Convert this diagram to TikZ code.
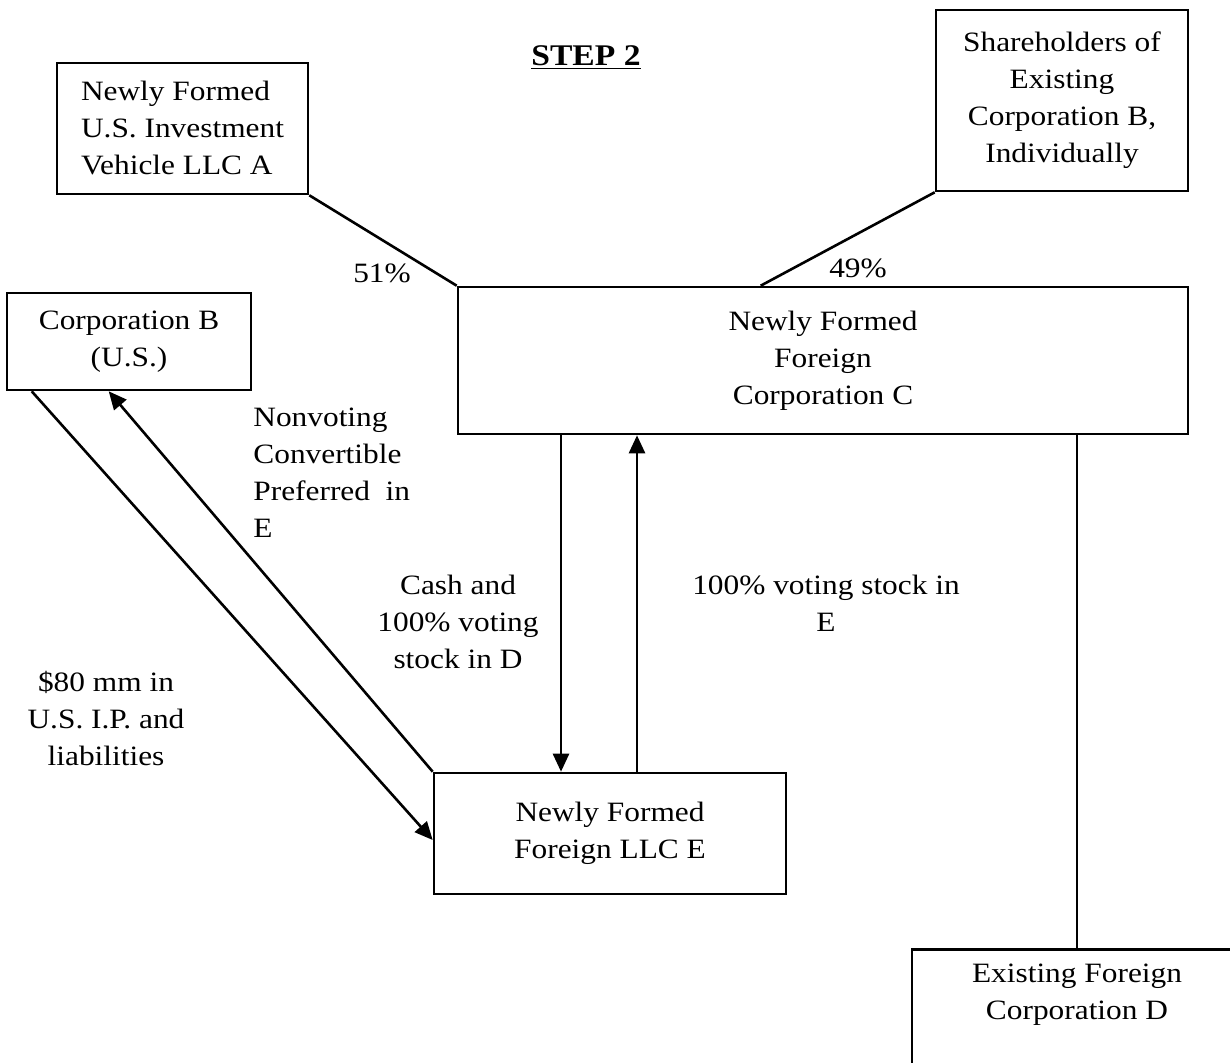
\documentclass[tikz,border=0pt]{standalone}
\usepackage{fontspec}
\setmainfont{Liberation Serif}[FakeStretch=1.12]
\usetikzlibrary{arrows.meta}
\tikzset{
  box/.style={draw, line width=1.3pt, inner sep=0pt},
  txt/.style={inner sep=0pt, align=center, font=\fontsize{14}{18.5}\selectfont},
  link/.style={line width=1.3pt},
  arr/.style={line width=1.3pt, -{Triangle[length=9pt,width=8pt]}}
}
\begin{document}
\begin{tikzpicture}[x=0.5pt,y=-0.5pt]
\useasboundingbox (0,0) rectangle (1230,1063);
\node[txt,font=\fontsize{15}{18}\selectfont] (step) at (586,58) {\textbf{\underline{STEP 2}}};
\node[box,txt,align=left,minimum width=125.5pt,minimum height=65.5pt] (A) at (182.5,128.5) {Newly Formed\\U.S. Investment\\Vehicle LLC A};
\node[box,txt,minimum width=126pt,minimum height=90.5pt] (S) at (1062,100.5) {Shareholders of\\Existing\\Corporation B,\\Individually};
\node[box,txt,minimum width=122pt,minimum height=48.5pt] (B) at (129,341.5) {Corporation B\\(U.S.)};
\node[box,txt,minimum width=365pt,minimum height=73.5pt] (C) at (823,360.5) {Newly Formed\\Foreign\\Corporation C};
\node[box,txt,minimum width=176pt,minimum height=60.5pt] (E) at (610,833.5) {Newly Formed\\Foreign LLC E};
\node[box,minimum width=165pt,minimum height=75pt,anchor=north] (D) at (1077,948) {};
\node[txt,anchor=north] (Dtext) at (1077,964) {Existing Foreign\\Corporation D};
\draw[link] (A.south east) -- (C.north west);
\draw[link] (S.south west) -- ([xshift=152pt]C.north west);
\node[txt] (p51) at (382,273) {51\%};
\node[txt] (p49) at (858,268) {49\%};
\draw[link] (C.south -| D.north) -- (D.north);
\draw[arr] (C.south -| 561,0) -- (E.north -| 561,0);
\draw[arr] (E.north -| 637,0) -- (C.south -| 637,0);
\draw[arr] ([xshift=13pt]B.south west) -- ([yshift=-3.25pt]E.west);
\draw[arr] (E.north west) -- ([xshift=51.5pt]B.south west);
\node[txt,align=left,anchor=north west] (pref) at (253,408) {Nonvoting\\Convertible\\Preferred~ in\\E};
\node[txt,anchor=north] (cash) at (458,575) {Cash and\\100\% voting\\stock in D};
\node[txt,anchor=north] (vote) at (826,575) {100\% voting stock in\\E};
\node[txt,anchor=north] (ip) at (106,671) {\$80 mm in\\U.S. I.P. and\\liabilities};
\end{tikzpicture}
\end{document}
